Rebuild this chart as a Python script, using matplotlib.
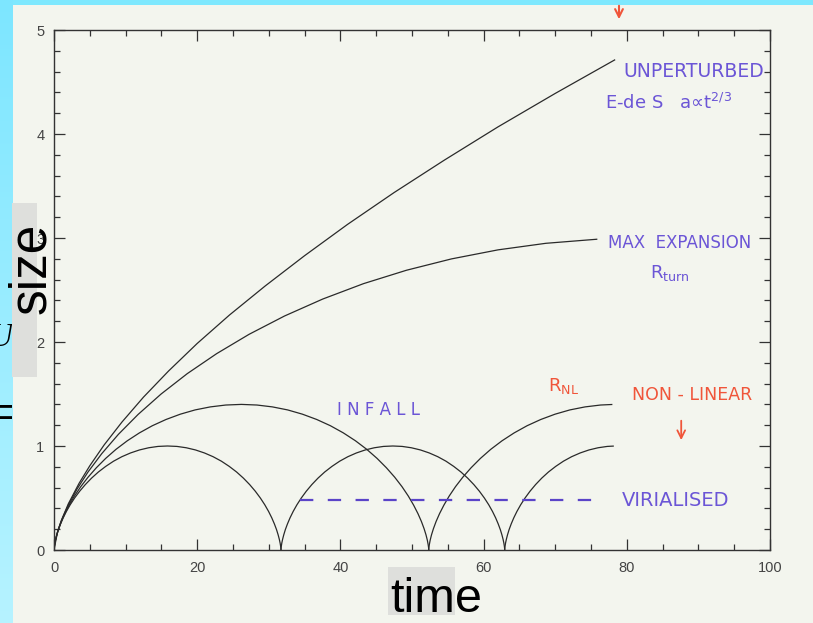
import matplotlib
matplotlib.use("Agg")
import matplotlib.pyplot as plt
from matplotlib.patches import Rectangle, FancyArrowPatch
from matplotlib.ticker import MultipleLocator
import numpy as np

# ---- curves (time, size) ----
unpert_t = [0, 0.5, 1.0, 2.0, 3.5, 5.0, 7.0, 9.5, 12.5, 16.0, 20.0, 24.5, 29.5, 35.0, 41.0,
            47.5, 54.5, 62.0, 70.0, 78.3]
unpert_R = [0, 0.176, 0.28, 0.444, 0.641, 0.810, 1.010, 1.231, 1.470, 1.721, 1.986, 2.259, 2.539,
            2.830, 3.131, 3.437, 3.748, 4.068, 4.390, 4.712]

maxexp_t = [0, 0.010, 0.079, 0.263, 0.619, 1.199, 2.052, 3.223, 4.749, 6.663, 8.993, 11.754, 14.961,
            18.616, 22.716, 27.248, 32.196, 37.531, 43.223, 49.231, 55.513, 62.018, 68.696, 75.8]
maxexp_R = [0, 0.013, 0.051, 0.114, 0.201, 0.310, 0.439, 0.587, 0.750, 0.926, 1.112, 1.304, 1.500,
            1.696, 1.888, 2.074, 2.250, 2.413, 2.561, 2.690, 2.799, 2.886, 2.949, 2.988]

med_t = [0, 0.003, 0.025, 0.084, 0.197, 0.381, 0.652, 1.024, 1.509, 2.118, 2.858, 3.736, 4.755,
         5.917, 7.220, 8.660, 10.233, 11.928, 13.737, 15.647, 17.643, 19.711, 21.833, 23.992, 26.170,
         28.347, 30.506, 32.628, 34.696, 36.692, 38.602, 40.411, 42.106, 43.679, 45.119, 46.421,
         47.584, 48.603, 49.481, 50.221, 50.830, 51.315, 51.687, 51.958, 52.142, 52.255, 52.314,
         52.336, 52.339]
med_R = [0, 0.006, 0.024, 0.053, 0.094, 0.145, 0.205, 0.274, 0.350, 0.432, 0.519, 0.609, 0.700,
         0.791, 0.881, 0.968, 1.050, 1.126, 1.195, 1.255, 1.306, 1.347, 1.376, 1.394, 1.400,
         1.394, 1.376, 1.347, 1.306, 1.255, 1.195, 1.126, 1.050, 0.968, 0.881, 0.791,
         0.700, 0.609, 0.519, 0.432, 0.350, 0.274, 0.205, 0.145, 0.094, 0.053, 0.024,
         0.006, 0]

small_t = [0, 0.002, 0.015, 0.051, 0.119, 0.231, 0.395, 0.620, 0.914, 1.283, 1.731, 2.263, 2.880,
           3.583, 4.373, 5.245, 6.197, 7.224, 8.320, 9.476, 10.685, 11.938, 13.223, 14.530, 15.849,
           17.169, 18.476, 19.762, 21.014, 22.223, 23.379, 24.475, 25.502, 26.454, 27.326, 28.116,
           28.819, 29.437, 29.968, 30.417, 30.785, 31.079, 31.304, 31.468, 31.580, 31.648, 31.684,
           31.697, 31.699]
small_R = [0, 0.004, 0.017, 0.038, 0.067, 0.103, 0.146, 0.196, 0.250, 0.309, 0.371, 0.435, 0.500,
           0.565, 0.629, 0.691, 0.750, 0.804, 0.854, 0.897, 0.933, 0.962, 0.983, 0.996, 1.000,
           0.996, 0.983, 0.962, 0.933, 0.897, 0.854, 0.804, 0.750, 0.691, 0.629, 0.565,
           0.500, 0.435, 0.371, 0.309, 0.250, 0.196, 0.146, 0.103, 0.067, 0.038, 0.017,
           0.004, 0]

# second cycle of the small perturbation
small2_t = [31.700, 31.702, 31.715, 31.750, 31.817, 31.928, 32.089, 32.311, 32.601, 32.964, 33.406,
            33.930, 34.539, 35.232, 36.010, 36.870, 37.809, 38.821, 39.901, 41.041, 42.233, 43.467,
            44.734, 46.023, 47.323, 48.623, 49.912, 51.179, 52.413, 53.605, 54.745, 55.825, 56.837,
            57.776, 58.636, 59.414, 60.107, 60.716, 61.240, 61.682, 62.045, 62.335, 62.557, 62.719,
            62.829, 62.896, 62.931, 62.944, 62.946]
small2_R = small_R

# third cycle (cut at the end of the run)
small3_t = [62.950, 62.952, 62.965, 63.000, 63.067, 63.178, 63.339, 63.561, 63.851, 64.214, 64.656,
            65.180, 65.789, 66.482, 67.260, 68.120, 69.059, 70.071, 71.151, 72.291, 73.483, 74.717,
            75.984, 77.273, 78.1]
small3_R = [0, 0.004, 0.017, 0.038, 0.067, 0.103, 0.146, 0.196, 0.250, 0.309, 0.371, 0.435, 0.500,
            0.565, 0.629, 0.691, 0.750, 0.804, 0.854, 0.897, 0.933, 0.962, 0.983, 0.996, 0.999]

# R_NL: second cycle of the medium perturbation
nl_t = [52.340, 52.343, 52.365, 52.424, 52.537, 52.721, 52.992, 53.364, 53.849, 54.458, 55.198,
        56.076, 57.095, 58.257, 59.560, 61.000, 62.573, 64.268, 66.077, 67.987, 69.983, 72.051,
        74.173, 76.332, 77.9]
nl_R = [0, 0.006, 0.024, 0.053, 0.094, 0.145, 0.205, 0.274, 0.350, 0.432, 0.519, 0.609, 0.700,
        0.791, 0.881, 0.968, 1.050, 1.126, 1.195, 1.255, 1.306, 1.347, 1.376, 1.394, 1.399]

virial_t = [34.4, 76.5]
virial_R = [0.48, 0.48]

xticks = [0, 20, 40, 60, 80, 100]
yticks = [0, 1, 2, 3, 4, 5]

W, H = 813, 623
PAPER = '#f3f5ee'
BLUE = '#6b55d6'
RED = '#f0553a'
GREY_BOX = '#dedfdc'

fig = plt.figure(figsize=(W / 100, H / 100), dpi=100, facecolor=PAPER)

# blue slide strips (top and left)
fig.add_artist(Rectangle((0, 1 - 5 / H), 1, 5 / H, transform=fig.transFigure,
                         facecolor='#7ee8fe', edgecolor='none', zorder=0))
strip = fig.add_axes([0, 0, 12 / W, 1])
grad = np.linspace(0, 1, 256).reshape(-1, 1)
strip.imshow(grad, aspect='auto', extent=[0, 1, 0, 1], origin='upper',
             cmap=matplotlib.colors.LinearSegmentedColormap.from_list('s', ['#7de6ff', '#b6f3ff']))
strip.set_xlim(0, 1)
strip.set_ylim(0, 1)
strip.axis('off')
# cut-off bits of the slide text behind the scan
strip.text(0.35, 1 - 417 / H, '=', fontsize=40, family='Liberation Serif', ha='center', va='center',
           color='black', clip_on=True)
strip.text(0.1, 1 - 338 / H, 'U', fontsize=24, family='Liberation Serif', style='italic',
           ha='center', va='center', color='black', clip_on=True)

# gray placeholder boxes for axis titles
fig.add_artist(Rectangle((12 / W, 1 - 377 / H), 25 / W, 174 / H, transform=fig.transFigure,
                         facecolor=GREY_BOX, edgecolor='none', zorder=1))
fig.add_artist(Rectangle((388 / W, 1 - 615 / H), 67 / W, 48 / H, transform=fig.transFigure,
                         facecolor=GREY_BOX, edgecolor='none', zorder=1))

ax = fig.add_axes([54 / W, 1 - 550 / H, 716 / W, 520 / H])
ax.patch.set_alpha(0)

line_kw = dict(color='#2a2a2a', lw=0.9)
ax.plot(unpert_t, unpert_R, **line_kw)
ax.plot(maxexp_t, maxexp_R, **line_kw)
ax.plot(med_t, med_R, **line_kw)
ax.plot(small_t, small_R, **line_kw)
ax.plot(small2_t, small2_R, **line_kw)
ax.plot(small3_t, small3_R, **line_kw)
ax.plot(nl_t, nl_R, **line_kw)
ax.plot(virial_t, virial_R, color='#5a44c8', lw=1.6, dashes=(6, 6.5))

ax.set_xlim(0, 100)
ax.set_ylim(0, 5)
ax.set_xticks(xticks)
ax.set_yticks(yticks)
ax.xaxis.set_minor_locator(MultipleLocator(5))
ax.yaxis.set_minor_locator(MultipleLocator(0.2))
ax.tick_params(which='both', direction='in', top=True, right=True, width=0.9, color='#333333',
               labelsize=10.5, labelcolor='#444444')
ax.tick_params(which='major', length=8)
ax.tick_params(which='minor', length=4.5)
ax.tick_params(axis='x', pad=8)
ax.tick_params(axis='y', pad=7)
for lab in ax.get_xticklabels() + ax.get_yticklabels():
    lab.set_family('Liberation Sans')
for sp in ax.spines.values():
    sp.set_color('#333333')
    sp.set_linewidth(1.0)

# handwritten notes
note = dict(family='DejaVu Sans', ha='left', va='center')
ax.text(79.5, 4.60, 'UNPERTURBED', color=BLUE, fontsize=13.5, **note)
ax.text(77.0, 4.30, 'E-de S   a\u221dt$^{2/3}$', color=BLUE, fontsize=13, **note)
ax.text(77.4, 2.95, 'MAX  EXPANSION', color=BLUE, fontsize=12, **note)
ax.text(83.2, 2.66, 'R$_{\\rm turn}$', color=BLUE, fontsize=13, **note)
ax.text(39.5, 1.35, 'I N F A L L', color=BLUE, fontsize=12, **note)
ax.text(69.0, 1.58, 'R$_{\\rm NL}$', color=RED, fontsize=13, **note)
ax.text(80.7, 1.49, 'NON - LINEAR', color=RED, fontsize=12.5, **note)
ax.text(79.3, 0.48, 'VIRIALISED', color=BLUE, fontsize=14, **note)
ax.annotate('', xy=(87.6, 1.03), xytext=(87.6, 1.27),
            arrowprops=dict(arrowstyle='->', color=RED, lw=1.3, mutation_scale=14))
fig.add_artist(FancyArrowPatch((619, H - 3), (619, H - 22), transform=None,
                               arrowstyle='->', color=RED, lw=1.5, mutation_scale=14))

# axis titles
fig.text(436 / W, 1 - 612 / H, 'time', fontsize=35, family='Liberation Sans', ha='center', va='baseline')
fig.text(32 / W, 1 - 268 / H, 'size', fontsize=37, family='Liberation Sans', rotation=90,
         ha='center', va='center')

fig.savefig('out.png', dpi=100, facecolor=PAPER)
